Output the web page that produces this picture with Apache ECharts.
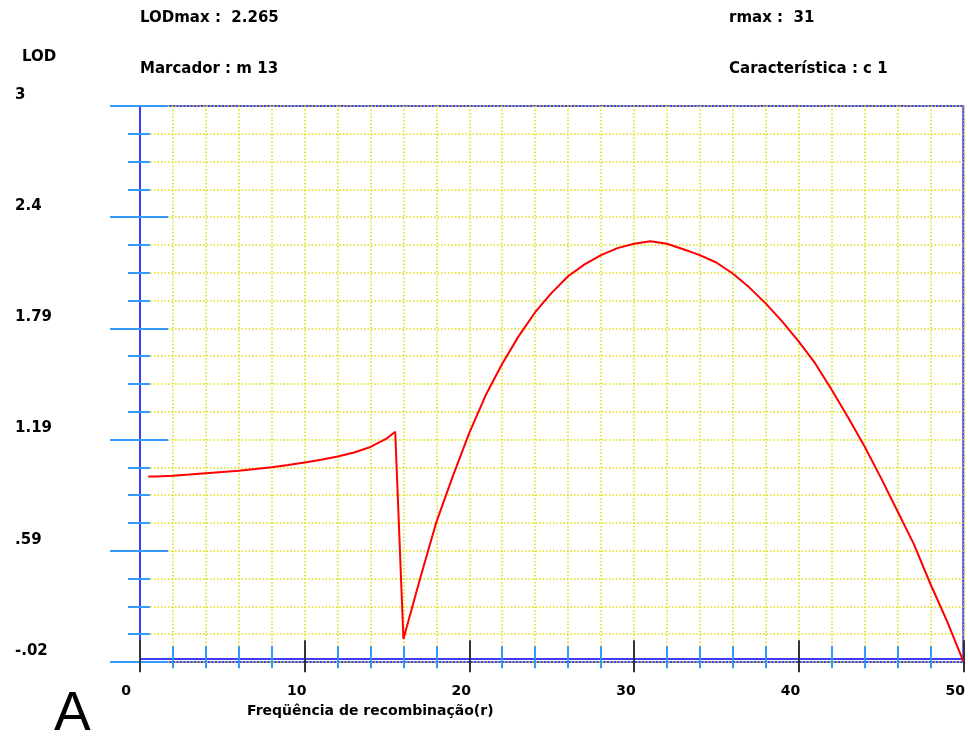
<!DOCTYPE html>
<html>
<head>
<meta charset="utf-8">
<script src="https://cdn.jsdelivr.net/npm/echarts@6/dist/echarts.min.js"></script>
<style>
html,body{margin:0;padding:0;background:#fff;}
#c{width:968px;height:737px;}
</style>
</head>
<body>
<div id="c"></div>
<script>
// ---- data ----
const rValues = [0.5, 1, 2, 3, 4, 5, 6, 7, 8, 9, 10, 11, 12, 13, 14, 15, 15.5, 16, 17, 18, 19, 20, 21, 22, 23, 24, 25, 26, 27, 28, 29, 30, 31, 32, 33, 34, 35, 36, 37, 38, 39, 40, 41, 42, 43, 44, 45, 46, 47, 48, 49, 50];
const lodValues = [0.987, 0.988, 0.992, 0.998, 1.005, 1.012, 1.019, 1.028, 1.038, 1.05, 1.064, 1.078, 1.096, 1.118, 1.148, 1.195, 1.231, 0.105, 0.43, 0.74, 0.99, 1.225, 1.43, 1.60, 1.75, 1.88, 1.985, 2.075, 2.14, 2.19, 2.228, 2.252, 2.265, 2.252, 2.222, 2.19, 2.15, 2.09, 2.015, 1.928, 1.83, 1.722, 1.603, 1.46, 1.31, 1.152, 0.98, 0.80, 0.62, 0.405, 0.205, -0.015];
const xTickLabels = ['0', '10', '20', '30', '40', '50'];
const yTickLabels = ['-.02', '.59', '1.19', '1.79', '2.4', '3'];
const xMin = 0, xMax = 50, xMinor = 2, xMajor = 10;
const yMin = -0.02, yMax = 3.0, yMinor = 0.151, yMajor = 0.604;
const headerLeft1 = 'LODmax :  2.265';
const headerRight1 = 'rmax :  31';
const headerLeft2 = 'Marcador : m 13';
const headerRight2 = 'Característica : c 1';
const yTitle = 'LOD';
const xTitle = 'Freqüência de recombinação(r)';
const panelLetter = 'A';

// ---- styles ----
const AXIS_BLUE = '#3c3cff';
const TICK_BLUE = '#3399ff';
const TICK_DARK = '#333333';
const GRID_YELLOW = '#dede10';
const FONT = 'DejaVu Sans';

const chart = echarts.init(document.getElementById('c'), null, {renderer: 'canvas'});

function xAxisDef(interval, opts) {
  return Object.assign({
    type: 'value', min: xMin, max: xMax, interval: interval, gridIndex: 0,
    axisLine: {show: false}, axisLabel: {show: false}, splitLine: {show: false},
    axisTick: {show: false}
  }, opts);
}
function yAxisDef(interval, opts) {
  return Object.assign({
    type: 'value', min: yMin, max: yMax, interval: interval, gridIndex: 0, position: 'left',
    axisLine: {show: false}, axisLabel: {show: false}, splitLine: {show: false},
    axisTick: {show: false}
  }, opts);
}

const xLabelFont = {fontFamily: FONT, fontWeight: 'bold', fontSize: 14, color: '#000'};
const headFont = 'bold 15px "' + FONT + '"';

const option = {
  animation: false,
  backgroundColor: '#fff',
  grid: {left: 140, right: 4, top: 106, bottom: 75, show: true, borderColor: AXIS_BLUE, borderWidth: 2, backgroundColor: 'transparent'},
  xAxis: [
    xAxisDef(xMinor, {
      position: 'bottom',
      axisLine: {show: true, lineStyle: {color: AXIS_BLUE, width: 2}},
      axisTick: {show: true, inside: false, length: 10, lineStyle: {color: TICK_BLUE, width: 2}},
      splitLine: {show: true, lineStyle: {color: GRID_YELLOW, width: 1.5, type: [1.5, 2]}},
      axisLabel: {
        show: true, margin: 22,
        formatter: function (v) {
          if (Math.abs(v % xMajor) > 1e-6) return '';
          const lab = xTickLabels[Math.round((v - xMin) / xMajor)];
          return v === 0 ? '{z|' + lab + '}' : '{n|' + lab + '}';
        },
        rich: {
          z: Object.assign({padding: [0, 28, 0, 0]}, xLabelFont),
          n: Object.assign({padding: [0, 16, 0, 0]}, xLabelFont)
        }
      }
    }),
    xAxisDef(xMinor, {position: 'bottom', axisTick: {show: true, inside: true, length: 12, lineStyle: {color: TICK_BLUE, width: 2}}}),
    xAxisDef(xMajor, {position: 'bottom', axisTick: {show: true, inside: false, length: 14, lineStyle: {color: TICK_DARK, width: 2}}}),
    xAxisDef(xMajor, {position: 'bottom', axisTick: {show: true, inside: true, length: 18, lineStyle: {color: TICK_DARK, width: 2}}})
  ],
  yAxis: [
    yAxisDef(yMinor, {
      axisLine: {show: true, lineStyle: {color: AXIS_BLUE, width: 2}},
      axisTick: {show: true, inside: false, length: 12, lineStyle: {color: TICK_BLUE, width: 2}},
      splitLine: {show: true, lineStyle: {color: GRID_YELLOW, width: 1.5, type: [1.5, 2]}},
      axisLabel: {
        show: true, margin: 125, align: 'left', verticalAlign: 'bottom',
        lineHeight: 22,
        fontFamily: FONT, fontWeight: 'bold', fontSize: 15, color: '#000',
        formatter: function (v) {
          const i = Math.round((v - yMin) / yMinor);
          const per = Math.round(yMajor / yMinor);
          return i % per === 0 ? (yTickLabels[i / per] || '') : '';
        }
      }
    }),
    yAxisDef(yMinor, {axisTick: {show: true, inside: true, length: 10, lineStyle: {color: TICK_BLUE, width: 2}}}),
    yAxisDef(yMajor, {axisTick: {show: true, inside: false, length: 30, lineStyle: {color: TICK_BLUE, width: 2}}}),
    yAxisDef(yMajor, {axisTick: {show: true, inside: true, length: 28, lineStyle: {color: TICK_BLUE, width: 2}}})
  ],
  series: [{
    type: 'line',
    xAxisIndex: 0, yAxisIndex: 0,
    data: rValues.map((r, i) => [r, lodValues[i]]),
    showSymbol: false,
    lineStyle: {color: '#ff0000', width: 2},
    itemStyle: {color: '#ff0000'},
    z: 5
  }],
  graphic: [
    {type: 'text', left: 140, top: 11, style: {text: headerLeft1, font: headFont, fill: '#000'}},
    {type: 'text', left: 729, top: 11, style: {text: headerRight1, font: headFont, fill: '#000'}},
    {type: 'text', left: 140, top: 62, style: {text: headerLeft2, font: headFont, fill: '#000'}},
    {type: 'text', left: 729, top: 62, style: {text: headerRight2, font: headFont, fill: '#000'}},
    {type: 'text', left: 22, top: 50, style: {text: yTitle, font: headFont, fill: '#000'}},
    {type: 'text', left: 247, top: 704, style: {text: xTitle, font: 'bold 14px "' + FONT + '"', fill: '#000'}},
    {type: 'text', left: 54, top: 687, style: {text: panelLetter, font: '55px "Liberation Sans"', fill: '#000'}}
  ]
};
chart.setOption(option);
</script>
</body>
</html>
